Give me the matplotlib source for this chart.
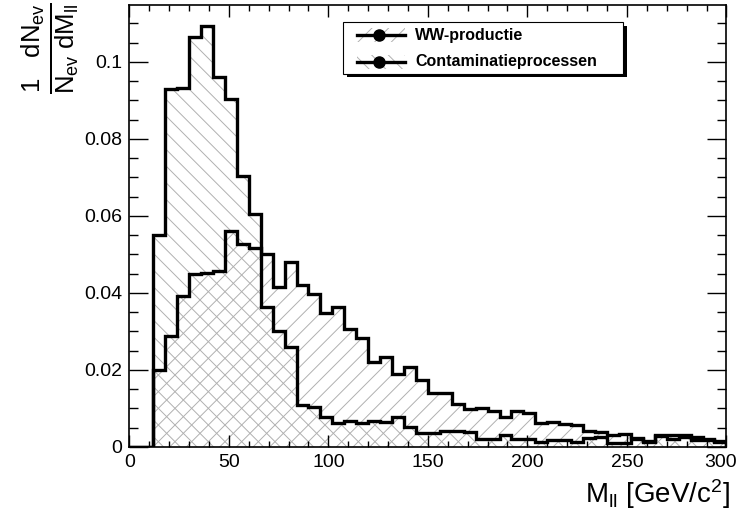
import numpy as np
import matplotlib
matplotlib.use('Agg')
import matplotlib.pyplot as plt
from matplotlib.patches import Rectangle
from matplotlib.lines import Line2D
from matplotlib.ticker import MultipleLocator

plt.rcParams['font.family'] = ['Liberation Sans', 'DejaVu Sans']
plt.rcParams['mathtext.fontset'] = 'custom'
plt.rcParams['mathtext.rm'] = 'Liberation Sans'
plt.rcParams['mathtext.it'] = 'Liberation Sans'
plt.rcParams['mathtext.bf'] = 'Liberation Sans:bold'
plt.rcParams['hatch.linewidth'] = 0.7

# bins van 6 GeV tussen 0 en 300
bin_breedte = 6
randen = np.arange(0, 300 + bin_breedte, bin_breedte)

# WW-productie (genormaliseerd)
ww = [0, 0,
      0.0200, 0.0287, 0.0392, 0.0449, 0.0452, 0.0457, 0.0561, 0.0527, 0.0516, 0.0501,
      0.0416, 0.0481, 0.0421, 0.0397, 0.0347, 0.0364, 0.0306, 0.0282, 0.0222, 0.0233,
      0.0190, 0.0209, 0.0174, 0.0141, 0.0141, 0.0111, 0.0099, 0.0100, 0.0094, 0.0079,
      0.0094, 0.0087, 0.0063, 0.0066, 0.0061, 0.0056, 0.0042, 0.0038, 0.0030, 0.0035,
      0.0024, 0.0016, 0.0028, 0.0022, 0.0027, 0.0018, 0.0019, 0.0012]

# contaminatieprocessen (genormaliseerd)
cont = [0, 0,
        0.0551, 0.0929, 0.0933, 0.1064, 0.1094, 0.0962, 0.0904, 0.0704, 0.0604, 0.0364,
        0.0300, 0.0259, 0.0109, 0.0105, 0.0077, 0.0062, 0.0067, 0.0063, 0.0068, 0.0064,
        0.0079, 0.0053, 0.0037, 0.0037, 0.0042, 0.0041, 0.0040, 0.0022, 0.0020, 0.0030,
        0.0020, 0.0020, 0.0014, 0.0018, 0.0018, 0.0014, 0.0023, 0.0027, 0.0010, 0.0010,
        0.0020, 0.0012, 0.0031, 0.0031, 0.0030, 0.0025, 0.0020, 0.0016]

namen = ['WW-productie', 'Contaminatieprocessen']
arceringen = ['//', '\\\\']
arcering_kleur = '#b0b0b0'

x_ticks = [0, 50, 100, 150, 200, 250, 300]
x_tick_labels = ['0', '50', '100', '150', '200', '250', '300']
y_ticks = [0, 0.02, 0.04, 0.06, 0.08, 0.1]
y_tick_labels = ['0', '0.02', '0.04', '0.06', '0.08', '0.1']

fig = plt.figure(figsize=(7.39, 5.22), dpi=100)
ax = fig.add_axes([0.175, 0.1437, 0.808, 0.8467])

# arcering eerst, dan de zwarte omlijning
for waarden, arc in zip([ww, cont], arceringen):
    ax.stairs(waarden, randen, fill=True, facecolor='none', edgecolor=arcering_kleur,
              linewidth=0, hatch=arc, baseline=0)
for waarden in [ww, cont]:
    st = ax.stairs(waarden, randen, color='black', linewidth=2.4, baseline=0)
    st.set_joinstyle('miter')

ax.set_xlim(0, 300)
ax.set_ylim(0, 0.1148)

# het laatste x-label past net niet, dat zetten we apart iets naar links
ax.set_xticks(x_ticks, labels=x_tick_labels[:-1] + [''])
ax.xaxis.set_minor_locator(MultipleLocator(10))
ax.set_yticks(y_ticks, labels=y_tick_labels)
ax.yaxis.set_minor_locator(MultipleLocator(0.005))
ax.tick_params(axis='both', which='both', direction='in', top=True, right=True,
               labelsize=14, width=1.0)
ax.tick_params(axis='y', which='major', length=13.5, pad=5)
ax.tick_params(axis='y', which='minor', length=6.8)
ax.tick_params(axis='x', which='major', length=8.6, pad=5)
ax.tick_params(axis='x', which='minor', length=4.3)
for sp in ax.spines.values():
    sp.set_linewidth(1.2)

ax.text(1.0 - 6 / 597, -7 / 442, x_tick_labels[-1], transform=ax.transAxes,
        ha='center', va='top', fontsize=14)

# aslabels
fig.text(730 / 739, 1 - 503 / 522, r'M$_{\mathrm{ll}}$ [GeV/c$^{2}$]',
         ha='right', va='baseline', fontsize=20)
fig.text(50 / 739, 1 - 2 / 522, r'$\frac{1\ \ \ dN_{ev}}{N_{ev}\ dM_{ll}}$',
         rotation=90, ha='center', va='top', fontsize=26.5)

# legende in ROOT-stijl
lx0, lx1, ly0, ly1 = 0.358, 0.827, 0.845, 0.962
ax.add_patch(Rectangle((lx0 + 0.0067, ly0 - 0.009), lx1 - lx0, ly1 - ly0,
                       transform=ax.transAxes, facecolor='black', edgecolor='none',
                       zorder=5, clip_on=False))
ax.add_patch(Rectangle((lx0, ly0), lx1 - lx0, ly1 - ly0, transform=ax.transAxes,
                       facecolor='white', edgecolor='black', linewidth=0.8,
                       zorder=6, clip_on=False))
for naam, arc, yc in zip(namen, arceringen, [0.932, 0.872]):
    ax.add_patch(Rectangle((0.3807, yc - 0.0158), 0.0804, 0.0316, transform=ax.transAxes,
                           facecolor='none', edgecolor=arcering_kleur, linewidth=0,
                           hatch=arc, zorder=7))
    ax.add_line(Line2D([0.3807, 0.4611], [yc, yc], transform=ax.transAxes, color='black',
                       linewidth=2.4, zorder=8))
    ax.add_line(Line2D([0.4184], [yc], transform=ax.transAxes, color='black', marker='o',
                       markersize=8, zorder=9))
    ax.text(0.4787, yc, naam, transform=ax.transAxes, ha='left', va='center',
            fontsize=11.5, fontweight='bold', zorder=9)

fig.savefig('out.png', dpi=100)
